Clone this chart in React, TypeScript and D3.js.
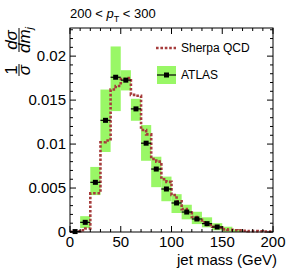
import * as d3 from "d3";

// ATLAS measurement, 10 GeV bins (centres)
const atlasMass = [5, 15, 25, 35, 45, 55, 65, 75, 85, 95, 105, 115, 125, 135, 145];
const atlasValue = [0.00005, 0.0011, 0.00565, 0.0127, 0.0176, 0.01727, 0.0140, 0.0101, 0.00716, 0.00489, 0.0033, 0.00227, 0.00148, 0.00095, 0.00057];

// systematic band, 10 GeV bins
const bandMass = [5, 15, 25, 35, 45, 55, 65, 75, 85, 95, 105, 115, 125, 135, 145, 155, 165];
const bandLow = [0, 0.00045, 0.0042, 0.0091, 0.01375, 0.0161, 0.01265, 0.0081, 0.0051, 0.0035, 0.00216, 0.00144, 0.0009, 0.00053, 0.0002, 0.00003, 0];
const bandHigh = [0.0001, 0.0018, 0.0074, 0.0162, 0.0211, 0.0184, 0.01515, 0.01216, 0.00856, 0.0063, 0.0043, 0.0031, 0.0023, 0.00167, 0.001, 0.0006, 0.0003];

// Sherpa QCD, 5 GeV bins starting at 0
const sherpaValue = [
  0.00002, 0.00008, 0.0002, 0.0004, 0.0044, 0.0044, 0.0102, 0.0104,
  0.0162, 0.0166, 0.0174, 0.0175, 0.0156, 0.0155, 0.0116, 0.0111,
  0.0083, 0.0080, 0.0060, 0.0057, 0.0042, 0.0035, 0.0026, 0.0022,
  0.0017, 0.0014, 0.0011, 0.0008, 0.0006, 0.0005, 0.0003, 0.00025,
  0.0002, 0.00018, 0.00015, 0.0001, 0.0001, 0.00008, 0.00006, 0.00005,
];

const xTicks = [0, 50, 100, 150, 200];
const yTicks = [0, 0.005, 0.01, 0.015, 0.02];

const W = 292;
const H = 277;
const left = 70, right = 273, top = 28, bottom = 232;
const font = "'Liberation Sans', Arial, Helvetica, sans-serif";

export default function App() {
  const x = d3.scaleLinear().domain([0, 200]).range([left, right]);
  const y = d3.scaleLinear().domain([0, 0.0232]).range([bottom, top]);

  const sherpaPts: [number, number][] = sherpaValue.map((v, i) => [i * 5, v]);
  sherpaPts.push([200, sherpaValue[sherpaValue.length - 1]]);
  const stepLine = d3.line<[number, number]>()
    .x(d => x(d[0]))
    .y(d => y(d[1]))
    .curve(d3.curveStepAfter);

  const xMinor = d3.range(0, 201, 10);
  const yMinor = d3.range(0, 0.0232, 0.001);
  const green = "#99f766";
  const red = "#a63c3c";

  return (
    <svg width={W} height={H} style={{position: "absolute", left: 0, top: 0, background: "#fff"}} fontFamily={font}>
      {/* uncertainty band */}
      {bandMass.map((m, i) => (
        <rect key={"b" + i} x={x(m - 5)} width={x(m + 5) - x(m - 5)}
              y={y(bandHigh[i])} height={y(bandLow[i]) - y(bandHigh[i])} fill={green}/>
      ))}

      {/* Sherpa */}
      <path d={stepLine(sherpaPts) ?? ""} fill="none" stroke={red} strokeWidth={2.6} strokeDasharray="2.6 1.8"/>

      {/* ATLAS points */}
      {atlasMass.map((m, i) => (
        <g key={"p" + i}>
          <line x1={x(m - 5)} x2={x(m + 5)} y1={y(atlasValue[i])} y2={y(atlasValue[i])} stroke="#000" strokeWidth={1.2}/>
          <rect x={x(m) - 2.5} y={y(atlasValue[i]) - 2.5} width={5} height={5} fill="#000"/>
        </g>
      ))}

      {/* frame */}
      <rect x={left} y={top} width={right - left} height={bottom - top} fill="none" stroke="#000" strokeWidth={1}/>

      {/* x ticks */}
      {xMinor.map(v => {
        const len = v % 50 === 0 ? 6 : 3;
        return (
          <g key={"xt" + v} stroke="#000" strokeWidth={1}>
            <line x1={x(v)} x2={x(v)} y1={bottom} y2={bottom - len}/>
            <line x1={x(v)} x2={x(v)} y1={top} y2={top + len}/>
          </g>
        );
      })}
      {xTicks.map(v => (
        <text key={"xl" + v} x={x(v)} y={247} textAnchor="middle" fontSize={15}>{v}</text>
      ))}

      {/* y ticks */}
      {yMinor.map((v, i) => {
        const len = i % 5 === 0 ? 6 : 3;
        return (
          <g key={"yt" + i} stroke="#000" strokeWidth={1}>
            <line x1={left} x2={left + len} y1={y(v)} y2={y(v)}/>
            <line x1={right} x2={right - len} y1={y(v)} y2={y(v)}/>
          </g>
        );
      })}
      {yTicks.map(v => (
        <text key={"yl" + v} x={66} y={y(v) + 5} textAnchor="end" fontSize={15}>{v}</text>
      ))}

      {/* axis titles */}
      <text x={277} y={265} textAnchor="end" fontSize={15}>jet mass (GeV)</text>
      <g transform="translate(19,70) rotate(-90)" fontSize={17}>
        <text x={0} y={-2} textAnchor="middle">1</text>
        <line x1={-6} x2={6} y1={0} y2={0} stroke="#000" strokeWidth={1}/>
        <text x={0} y={11} textAnchor="middle" fontStyle="italic">σ</text>
      </g>
      <g transform="translate(19,40) rotate(-90)" fontSize={17}>
        <text x={0} y={-2} textAnchor="middle" fontStyle="italic">dσ</text>
        <line x1={-12} x2={12} y1={0} y2={0} stroke="#000" strokeWidth={1}/>
        <text x={0} y={11} textAnchor="middle" fontStyle="italic">dm<tspan fontSize={11} dy={3}>j</tspan></text>
      </g>

      {/* title */}
      <text x={70} y={18} fontSize={13}>
        200 &lt; <tspan fontStyle="italic">p</tspan><tspan fontSize={9} dy={4}>T</tspan><tspan dy={-4}> &lt; 300</tspan>
      </text>

      {/* legend */}
      <line x1={156} x2={176} y1={48} y2={48} stroke={red} strokeWidth={2.6} strokeDasharray="2.6 1.8"/>
      <text x={181} y={52} fontSize={12}>Sherpa QCD</text>
      <rect x={157} y={66} width={19} height={18} fill={green}/>
      <line x1={157} x2={176} y1={75} y2={75} stroke="#000" strokeWidth={1.2}/>
      <rect x={164} y={72.5} width={5} height={5} fill="#000"/>
      <text x={181} y={79} fontSize={12}>ATLAS</text>
    </svg>
  );
}
